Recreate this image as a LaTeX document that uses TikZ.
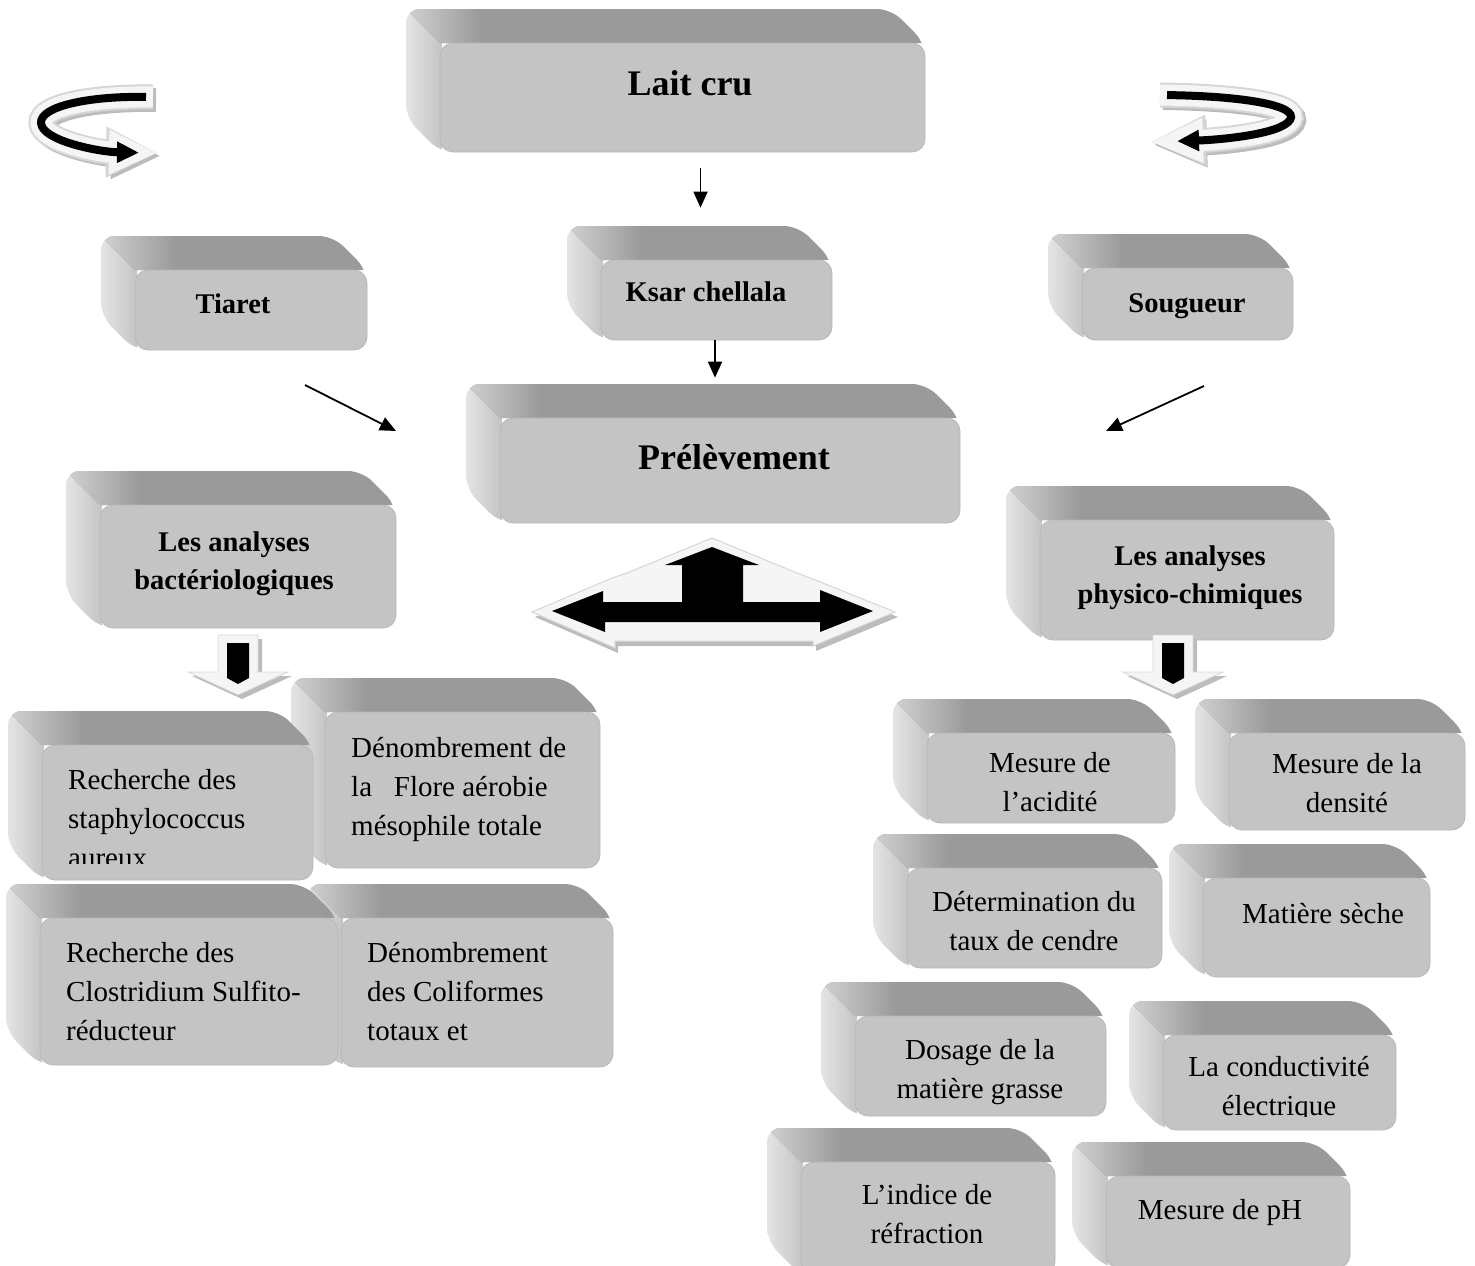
\documentclass[tikz,border=0pt]{standalone}
\usepackage{fontspec}
\setmainfont{Liberation Serif}
\usetikzlibrary{arrows.meta}
\definecolor{facegray}{RGB}{196,196,196}
\definecolor{edgegray}{RGB}{182,182,182}
\definecolor{topgray}{RGB}{154,154,154}
\definecolor{sidelight}{RGB}{230,230,230}
\definecolor{sidedark}{RGB}{196,196,196}
\definecolor{bandwhite}{RGB}{245,245,245}
\definecolor{bandedge}{RGB}{214,214,214}
\definecolor{shadowgray}{RGB}{188,188,188}
\tikzset{
  face/.style={fill=facegray, draw=edgegray, line width=0.7pt, rounded corners=13pt, inner sep=0pt},
  titletext/.style={font=\fontsize{36}{43}\selectfont\bfseries, inner sep=0pt,
              execute at begin node=\strut, execute at end node=\strut},
  placetext/.style={font=\fontsize{28.5}{38}\selectfont\bfseries, inner sep=0pt, align=center,
              execute at begin node=\strut, execute at end node=\strut},
  bodytext/.style={font=\fontsize{29}{39}\selectfont, inner sep=0pt,
              execute at begin node=\strut, execute at end node=\strut},
  flow/.style={-{Triangle[length=16pt,width=14pt]}, line width=1.8pt},
  ucore/.style={line width=8pt, draw=black, -{Triangle[length=22pt,width=20pt]}, shorten <=7pt},
}
% 3D box: name, front face x1, y1, x2, y2
\newcommand{\bevelbox}[5]{%
  \begin{scope}
    \clip[rounded corners=14pt] (#2-34,#5-34) -- (#2-34,#3-34) -- (#4-34,#3-34) -- (#4,#3) -- (#4,#5) -- (#2,#5) -- cycle;
    \shade[left color=sidelight, right color=sidedark] (#2-36,#3-36) rectangle (#2+2,#5+2);
    \fill[topgray] (#2-36,#3-36) -- (#4+2,#3-36) -- (#4+2,#3) -- (#2,#3) -- cycle;
    \shade[left color=sidelight!75!topgray, right color=topgray] (#2-36,#3-36) -- (#2+40,#3-36) -- (#2+40,#3) -- (#2,#3) -- cycle;
  \end{scope}
  \node[face, minimum width={#4-#2}, minimum height={#5-#3}] (#1) at ({(#2+#4)/2},{(#3+#5)/2}) {};
}

\begin{document}
\begin{tikzpicture}[x=1pt, y=-1pt]
  \useasboundingbox (0,0) rectangle (1475,1266);
  % top part
  \bevelbox{lait}{440}{43}{925}{152}
  \bevelbox{tiaret}{135}{270}{367}{350}
  \bevelbox{ksar}{601}{260}{832}{340}
  \bevelbox{sougueur}{1082}{268}{1293}{340}
  \bevelbox{prel}{500}{418}{960}{523}
  \bevelbox{bact}{100}{505}{396}{628}
  \bevelbox{physico}{1040}{520}{1334}{640}
  \node[titletext] (lait-t) at (690,87) {Lait cru};
  \node[placetext] (tiaret-t) at (233,306) {Tiaret};
  \node[placetext] (ksar-t) at (706,294) {Ksar chellala};
  \node[placetext] (sougueur-t) at (1187,305) {Sougueur};
  \node[titletext] (prel-t) at (734,461) {Prélèvement};
  \node[placetext] (bact-t) at (234,566) {Les analyses\\bactériologiques};
  \node[placetext] (physico-t) at (1190,580) {Les analyses\\physico-chimiques};
  % bacteriological tests
  \bevelbox{flore}{325}{712}{600}{868}
  \bevelbox{staph}{42}{745}{313}{880}
  \bevelbox{colif}{341}{918}{613}{1067}
  \bevelbox{clost}{40}{918}{338}{1065}
  \node[bodytext, align=left, anchor=west] (flore-t) at (351,792) {Dénombrement de\\la~~~Flore aérobie\\mésophile totale};
  \begin{scope}
    \clip (42,740) rectangle (313,863);
    \node[bodytext, align=left, anchor=west] (staph-t) at (68,824.5) {Recherche des\\staphylococcus\\aureux};
  \end{scope}
  \node[bodytext, align=left, anchor=west] (clost-t) at (66,997.5) {Recherche des\\Clostridium Sulfito-\\réducteur};
  \node[bodytext, align=left, anchor=west] (colif-t) at (367,997.5) {Dénombrement\\des Coliformes\\totaux et};
  % physico-chemical tests
  \bevelbox{acid}{927}{733}{1175}{823}
  \bevelbox{dens}{1229}{733}{1465}{830}
  \bevelbox{cendre}{907}{868}{1162}{968}
  \bevelbox{seche}{1203}{878}{1430}{977}
  \bevelbox{grasse}{855}{1016}{1106}{1116}
  \bevelbox{conduct}{1163}{1035}{1396}{1130}
  \bevelbox{refrac}{801}{1162}{1055}{1275}
  \bevelbox{ph}{1106}{1176}{1350}{1268}
  \node[bodytext, align=center] (acid-t) at (1050,788) {Mesure de\\l’acidité};
  \node[bodytext, align=center] (dens-t) at (1347,789) {Mesure de la\\densité};
  \node[bodytext, align=center] (cendre-t) at (1034,926.5) {Détermination du\\taux de cendre};
  \node[bodytext] (seche-t) at (1323,916) {Matière sèche};
  \node[bodytext, align=center] (grasse-t) at (980,1074.5) {Dosage de la\\matière grasse};
  \begin{scope}
    \clip (1163,1030) rectangle (1396,1116);
    \node[bodytext, align=center] (conduct-t) at (1279,1092) {La conductivité\\électrique};
  \end{scope}
  \node[bodytext, align=center] (refrac-t) at (927,1220) {L’indice de\\réfraction};
  \node[bodytext] (ph-t) at (1220,1212) {Mesure de pH};
  % plain arrows
  \coordinate (tia-out) at (305,385);
  \coordinate (prel-w) at (396,431);
  \coordinate (sou-out) at (1204,386);
  \coordinate (prel-e) at (1106,431);
  \draw[flow, shorten <=16pt, shorten >=52pt] ([xshift=18pt]lait.south) -- ([xshift=-16pt]ksar.north);
  \draw[flow, shorten >=40pt] ([xshift=-1.5pt]ksar.south) -- ([xshift=-15pt]prel.north);
  \draw[flow] (tia-out) -- (prel-w);
  \draw[flow] (sou-out) -- (prel-e);
  % u-turn arrows
  \foreach \w/\c/\d/\l/\b in {24/shadowgray/3/50/44, 25/bandedge/0/52/47, 21/bandwhite/0/49/41}
    \draw[line width=\w pt, draw=\c, shift={(\d,\d)}, -{Triangle[length=\l pt,width=\b pt]}]
      (153,97) .. controls (90,96) and (40,106) .. (41,123) .. controls (42,141) and (100,152) .. (158,153);
  \draw[ucore, shorten >=19pt] (153,97) .. controls (90,96) and (40,106) .. (41,123) .. controls (42,141) and (100,152) .. (158,153);
  \foreach \w/\c/\d/\l/\b in {24/shadowgray/3/54/44, 25/bandedge/0/56/47, 21/bandwhite/0/53/41}
    \draw[line width=\w pt, draw=\c, shift={(\d,\d)}, -{Triangle[length=\l pt,width=\b pt]}]
      (1160,95) .. controls (1240,96) and (1300,105) .. (1290,120) .. controls (1280,135) and (1215,140) .. (1150,142);
  \draw[ucore, shorten >=27pt] (1160,95) .. controls (1240,96) and (1300,105) .. (1290,120) .. controls (1280,135) and (1215,140) .. (1150,142);
  % three-way arrow
  \fill[shadowgray, shift={(3,5)}] (532,612) -- (612,578) -- (627,573) -- (712,538) -- (797,573) -- (813,579) -- (895,612) -- (813,646) -- (813,641) -- (615,641) -- (615,648) -- cycle;
  \filldraw[fill=bandwhite, draw=bandedge, line width=1pt] (532,612) -- (612,578) -- (627,573) -- (712,538) -- (797,573) -- (813,579) -- (895,612) -- (813,646) -- (813,641) -- (615,641) -- (615,648) -- cycle;
  \fill[black] (552,611) -- (603,591) -- (603,602) -- (682,602) -- (682,565) -- (665,565) -- (712,547) -- (759,565) -- (743,565) -- (743,602) -- (820,602) -- (820,590) -- (873,611) -- (820,632) -- (820,622) -- (605,622) -- (605,632) -- cycle;
  % down block arrows
  \foreach \ax in {238,1173} {
    \fill[shadowgray, shift={(\ax+4,4)}] (-20,635) -- (20,635) -- (20,672) -- (50,672) -- (0,695) -- (-50,672) -- (-20,672) -- cycle;
    \filldraw[fill=bandwhite, draw=bandedge, line width=0.8pt, shift={(\ax,0)}] (-20,635) -- (20,635) -- (20,672) -- (50,672) -- (0,695) -- (-50,672) -- (-20,672) -- cycle;
    \fill[black, shift={(\ax,0)}] (-11,643) -- (11,643) -- (11,678) -- (0,684) -- (-11,678) -- cycle;
  }
\end{tikzpicture}
\end{document}
